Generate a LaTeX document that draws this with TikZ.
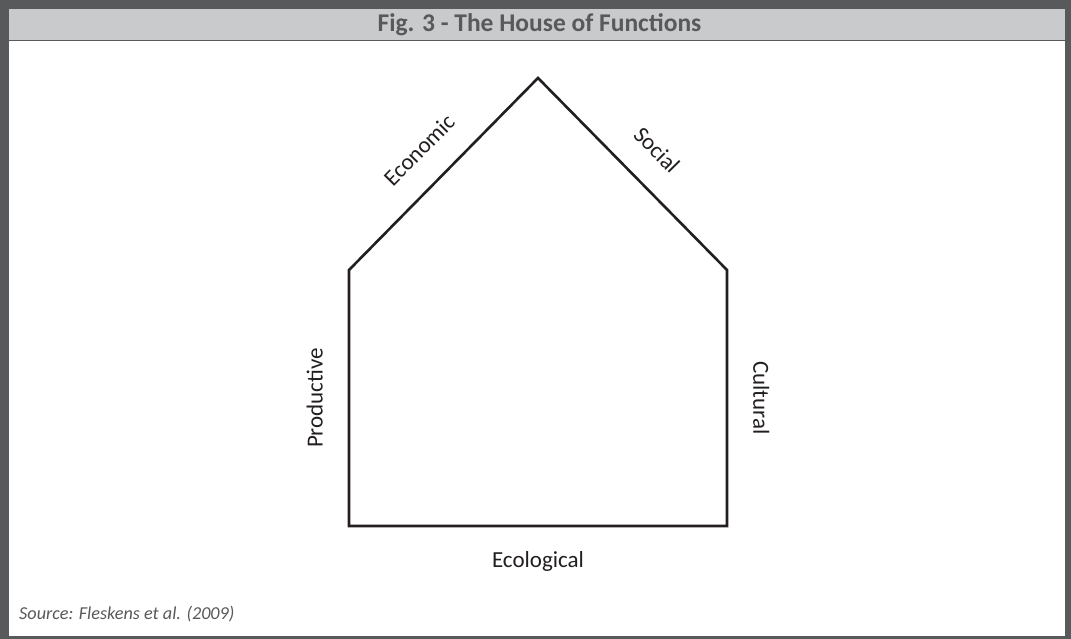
\documentclass[tikz,border=0pt]{standalone}
\usepackage{fontspec}
\setmainfont{Carlito}

\definecolor{framegray}{HTML}{58595B}
\definecolor{headgray}{HTML}{C9CACB}
\definecolor{inkblack}{HTML}{231F20}

\begin{document}
\begin{tikzpicture}[x=1pt,y=-1pt,
  wall/.style={line width=2.6pt, draw=inkblack, line join=miter},
  side/.style={font=\fontsize{23}{27}\selectfont, text=inkblack, inner sep=0pt}]
  \useasboundingbox (0,0) rectangle (1071,639);

  % Draw frame and title band
  \fill[framegray] (0,0) rectangle (1071,639);
  \fill[white] (9,41) rectangle (1065,636);
  \fill[headgray] (9,9) rectangle (1065,40);
  \draw[framegray,line width=1.5pt] (9,40.5) -- (1065,40.5);
  \node[font=\bfseries\fontsize{25.5}{30}\selectfont, text=framegray, anchor=base, inner sep=0pt] (title) at (539.5,32) {Fig. 3 - The House of Functions};

  % Define house corners
  \coordinate (BL) at (349,526);
  \coordinate (LE) at (349,270);
  \coordinate (TOP) at (538,78);
  \coordinate (RE) at (727,270);
  \coordinate (BR) at (727,526);

  % Draw house with one function on each side
  \draw[wall] (BL) -- node[side, midway, sloped, above=25pt] (prod) {Productive}
    (LE) -- node[side, midway, sloped, above=25pt] (econ) {Economic}
    (TOP) -- node[side, midway, sloped, above=25pt] (soc) {Social}
    (RE) -- node[side, midway, sloped, above=25pt] (cult) {Cultural}
    (BR) -- cycle;
  \path (BL) -- node[side, midway, below=25pt] (ecol) {Ecological} (BR);

  % Source line
  \node[font=\itshape\fontsize{18.2}{22}\selectfont, text=framegray, anchor=base west, inner sep=0pt] (src) at (19,619) {Source: Fleskens et al. (2009)};

\end{tikzpicture}
\end{document}
